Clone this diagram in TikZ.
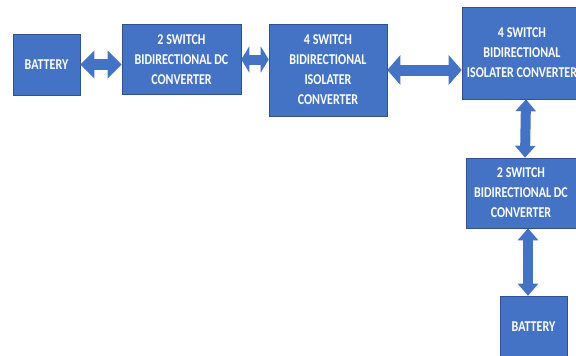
\documentclass[tikz,border=0pt]{standalone}
\usepackage{fontspec}
\usetikzlibrary{arrows.meta}
\newfontfamily\blockfont[FakeStretch=0.8]{Carlito}
\definecolor{boxblue}{RGB}{68,114,196}
\definecolor{edgeblue}{RGB}{47,82,143}
\tikzset{
	block/.style={draw=edgeblue, line width=0.6pt, fill=boxblue, text=white, align=center, inner sep=0pt,
		font=\blockfont\bfseries\fontsize{15}{20}\selectfont},
	link/.style={draw=boxblue, line width=11pt,
		{Triangle[length=14pt,width=27pt]}-{Triangle[length=14pt,width=27pt]}, shorten <=0pt, shorten >=0pt},
	vlink/.style={link, line width=10pt,
		{Triangle[length=12pt,width=20pt]}-{Triangle[length=12pt,width=20pt]}}
}
\begin{document}
\begin{tikzpicture}[x=1pt, y=-1pt]
	\useasboundingbox (0,0) rectangle (576,356);
	%BATTERY links
	\node (bat1) at (46.5,64.5) [block, minimum width=67pt, minimum height=61pt] {BATTERY};
	%
	%2 Switch Wandler links
	\node (dc1) at (181.5,59.5) [block, minimum width=119pt, minimum height=70pt] {2 SWITCH\\BIDIRECTIONAL DC\\CONVERTER};
	%
	%4 Switch Isolator links
	\node (iso1) at (328,70) [block, minimum width=118pt, minimum height=92pt] {4 SWITCH\\BIDIRECTIONAL\\ISOLATER\\CONVERTER};
	%
	%4 Switch Isolator rechts
	\node (iso2) at (522,53) [block, minimum width=120pt, minimum height=92pt] {4 SWITCH\\BIDIRECTIONAL\\ISOLATER CONVERTER};
	%
	%2 Switch Wandler rechts
	\node (dc2) at (521,193) [block, minimum width=110pt, minimum height=70pt] {2 SWITCH\\BIDIRECTIONAL DC\\CONVERTER};
	%
	%BATTERY rechts
	\node (bat2) at (533.5,327) [block, minimum width=67pt, minimum height=62pt] {BATTERY};
	%
	%%%%%%%%%%%%%%%%%%%%%%%%%%%%%%%%%%%%%%
	%Pfeile
	\draw[link] (bat1.east) -- (bat1.east -| dc1.west);
	\draw[link, line width=10pt, {Triangle[length=8pt,width=26pt]}-{Triangle[length=8pt,width=26pt]}] (dc1.east) -- (dc1.east -| iso1.west);
	\draw[link, {Triangle[length=13pt,width=29pt]}-{Triangle[length=13pt,width=29pt]}] (iso1.east) -- (iso1.east -| iso2.west);
	\draw[vlink] ([xshift=4pt]iso2.south) -- ([xshift=4pt]dc2.north);
	\draw[vlink] ([xshift=7pt]dc2.south) -- ([xshift=7pt]dc2.south |- bat2.north);
\end{tikzpicture}
\end{document}
